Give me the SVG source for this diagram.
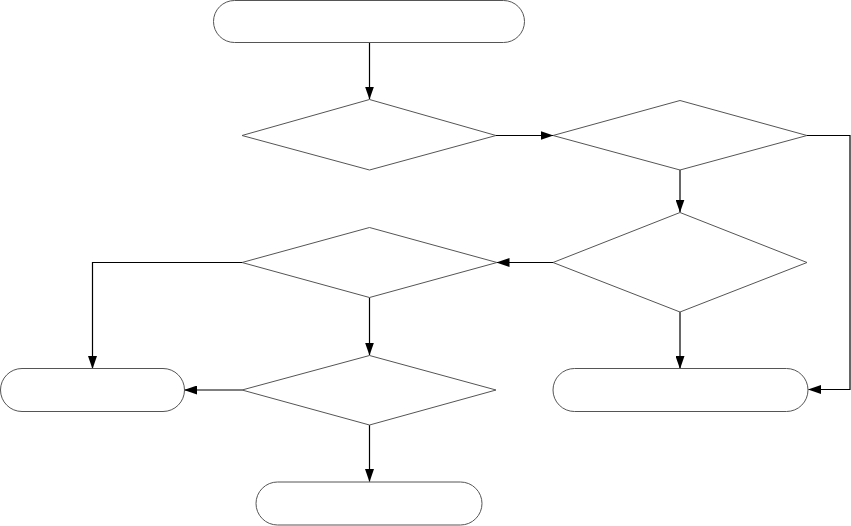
<svg xmlns="http://www.w3.org/2000/svg" width="851" height="526" viewBox="0 0 851 526">
<style>
.node{fill:#ffffff;stroke:#555555;stroke-width:1}
.edge{fill:none;stroke:#000000;stroke-width:1.2;marker-end:url(#arrow)}
</style>
<defs>
<marker id="arrow" markerUnits="userSpaceOnUse" markerWidth="13" markerHeight="9" refX="12.5" refY="4.5" orient="auto">
<path d="M0,0 L13,4.5 L0,9 z" fill="#000000"/>
</marker>
</defs>
<rect width="851" height="526" fill="#ffffff"/>
<g id="connectors">
<path class="edge" d="M369.5,43 V99"/>
<path class="edge" d="M496,135.5 H553"/>
<path class="edge" d="M807,135.5 H850 V389.5 H808.5"/>
<path class="edge" d="M680,170 V212"/>
<path class="edge" d="M553,262.5 H497"/>
<path class="edge" d="M242,262.5 H92.5 V368.5"/>
<path class="edge" d="M369.5,297.5 V355"/>
<path class="edge" d="M242,390 H184.5"/>
<path class="edge" d="M369.5,425 V481.5"/>
<path class="edge" d="M680,312 V368.5"/>
</g>
<g id="start"><rect class="node" x="213.5" y="0.5" width="311" height="42" rx="21" ry="21"/></g>
<g id="decision1"><polygon class="node" points="369.5,99.5 496,135.5 369.5,170 242,135.5"/></g>
<g id="decision2"><polygon class="node" points="680,100.5 807,135.5 680,170 553,135.5"/></g>
<g id="decision3"><polygon class="node" points="680,212.5 807,262.5 680,312 553,262.5"/></g>
<g id="decision4"><polygon class="node" points="369.5,227.5 497,262.5 369.5,297.5 242,262.5"/></g>
<g id="decision5"><polygon class="node" points="369.5,355.5 496,390 369.5,425 242,390"/></g>
<g id="end-left"><rect class="node" x="0.5" y="368.5" width="184" height="43" rx="21.5" ry="21.5"/></g>
<g id="end-right"><rect class="node" x="553" y="368.5" width="255" height="43" rx="21.5" ry="21.5"/></g>
<g id="end-bottom"><rect class="node" x="256" y="482" width="226" height="43" rx="21.5" ry="21.5"/></g>
</svg>
